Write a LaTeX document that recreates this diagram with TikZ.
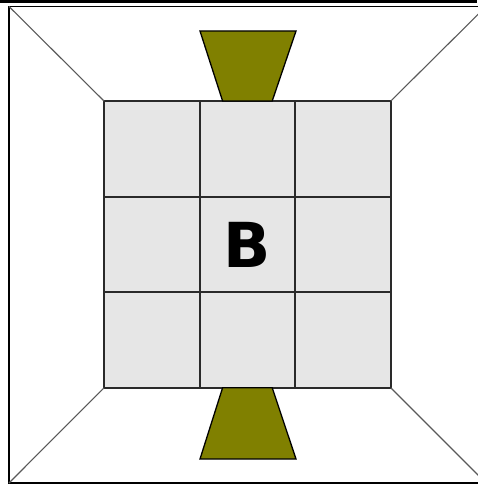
\documentclass[tikz,border=0pt]{standalone}
\usepackage{fontspec}
\newfontfamily\labelfont{DejaVu Sans}
\usetikzlibrary{positioning,calc}
\definecolor{olivefill}{HTML}{808000}
\definecolor{cellgray}{HTML}{E6E6E6}
\definecolor{gridline}{HTML}{2A2A2A}
\tikzset{
  cell/.style={draw=gridline,fill=cellgray,line width=1.9pt,minimum size=95.6pt,
               inner sep=0pt,outer sep=0pt},
  frame/.style={draw=black,line width=1.4pt},
  diag/.style={draw=black!65,line width=1.1pt},
  wedge/.style={draw=black,fill=olivefill,line width=1.3pt,line join=miter}
}

\begin{document}
\begin{tikzpicture}[x=1pt,y=-1pt]
  \useasboundingbox (0,0) rectangle (477,484);
  % frame and top rule
  \fill[black] (0,0) rectangle (477,3);
  \coordinate (tl) at (9,6.5);
  \coordinate (tr) at (486,6.5);
  \coordinate (bl) at (9,483);
  \coordinate (br) at (486,483);
  \draw[frame] (tl) -- (tr) -- (br) -- (bl) -- cycle;
  % 3x3 grid of cells
  \foreach \r in {0,1,2}{
    \foreach \c in {0,1,2}{
      \node[cell] (c\r\c) at ({151.8+95.6*\c},{148.8+95.6*\r}) {};
    }
  }
  \node[font=\labelfont\bfseries\fontsize{62}{62}\selectfont] (lbl) at (c11) {B};
  % corner lines
  \draw[diag] (tl) -- (c00.north west);
  \draw[diag] (tr) -- (c02.north east);
  \draw[diag] (bl) -- (c20.south west);
  \draw[diag] (br) -- (c22.south east);
  % olive wedges
  \draw[wedge] ($(c01.north west)+(23,0)$) -- (200,31) -- (296,31) -- ($(c01.north east)+(-23,0)$) -- cycle;
  \draw[wedge] ($(c21.south west)+(23,0)$) -- (200,459) -- (296,459) -- ($(c21.south east)+(-23,0)$) -- cycle;
\end{tikzpicture}
\end{document}
